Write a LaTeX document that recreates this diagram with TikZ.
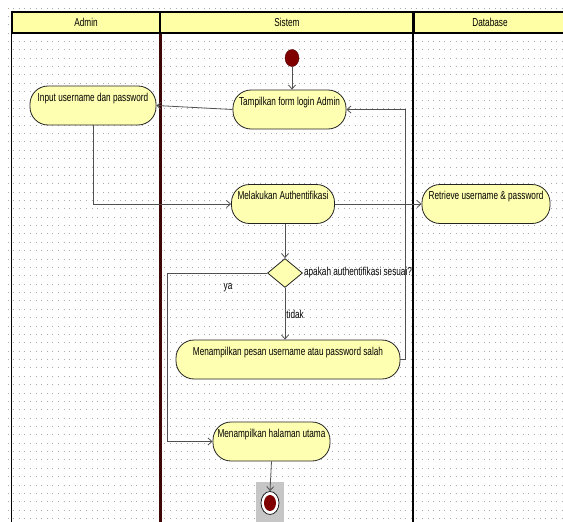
\documentclass[tikz,border=0pt]{standalone}
\usepackage{fontspec}
\newfontfamily\umlfont[FakeStretch=0.715]{Liberation Sans}
\usetikzlibrary{arrows.meta,calc,shapes.geometric}
\definecolor{umlyellow}{RGB}{255,255,178}
\definecolor{laneyellow}{RGB}{255,255,166}
\definecolor{umlmaroon}{RGB}{128,0,0}
\definecolor{lanemaroon}{RGB}{62,6,6}
\definecolor{umlink}{RGB}{35,35,35}
\definecolor{umlwire}{RGB}{80,80,80}
\definecolor{umldot}{RGB}{170,170,170}

\begin{document}
\begin{tikzpicture}[
    x=1pt, y=-1pt,
    >={Straight Barb[length=4pt,width=7pt]},
    % Activity boxes keep their text near the top, as in the modelling tool.
    act/.style={
        draw=umlink,
        line width=0.8pt,
        fill=umlyellow,
        rounded corners=18pt,
        align=center,
        inner xsep=2pt,
        inner ysep=3pt,
        text height=12pt,
        text depth=21pt,
        font=\umlfont\fontsize{11.5}{13}\selectfont
    },
    decision/.style={
        diamond,
        draw=umlink,
        line width=0.8pt,
        fill=umlyellow,
        inner sep=0pt,
        minimum width=35pt,
        minimum height=29pt
    },
    initial/.style={
        ellipse,
        draw=umlmaroon!60!black,
        fill=umlmaroon,
        inner sep=0pt,
        minimum width=14pt,
        minimum height=17pt
    },
    final/.style={
        ellipse,
        draw=umlink,
        line width=0.8pt,
        fill=white,
        inner sep=0pt,
        minimum width=18pt,
        minimum height=23pt,
        path picture={\fill[umlmaroon] (path picture bounding box.center) ellipse (6pt and 8pt);}
    },
    selbox/.style={fill=gray!45, inner sep=0pt, minimum width=28pt, minimum height=40pt},
    lanehead/.style={
        draw=black,
        line width=1.2pt,
        fill=laneyellow,
        inner sep=0pt,
        minimum height=21pt,
        font=\umlfont\fontsize{11.5}{13}\selectfont
    },
    lbl/.style={inner sep=1pt, font=\umlfont\fontsize{11.5}{13}\selectfont},
    flow/.style={->, draw=umlwire, line width=0.8pt},
    griddot/.style={draw=umldot, line width=1pt, dash pattern=on 1pt off 4.6pt}
]
    \useasboundingbox (0,0) rectangle (563,522);
    \clip (0,0) rectangle (563,522);

    % dotted drawing grid
    \foreach \gy in {0,...,62} {
        \draw[griddot] (7.5,{8+8.37*\gy}) -- (563,{8+8.37*\gy});
    }

    % swimlanes
    \node[lanehead, minimum width=148pt] (adminlane) at (86,22.5) {Admin};
    \node[lanehead, minimum width=254pt] (sistemlane) at (287,22.5) {Sistem};
    \node[lanehead, minimum width=152pt] (dblane) at (490,22.5) {Database};
    \draw[black, line width=1.5pt] (adminlane.north west) -- ++(0,520);
    \draw[lanemaroon, line width=3pt] (adminlane.south east) -- ++(0,500);
    \draw[black, line width=2pt] (dblane.north west) -- ++(0,520);

    % activities
    \node[initial] (start) at (292,58) {};
    \node[act, minimum width=113pt] (form) at (289.5,109.5) {Tampilkan form login Admin};
    \node[act, minimum width=126pt] (input) at (93,105.5) {Input username dan password};
    \node[act, minimum width=103pt] (auth) at (283,204) {Melakukan Authentifikasi};
    \node[act, minimum width=128pt] (retrieve) at (486,204) {Retrieve username \& password};
    \node[decision] (check) at (285,273) {};
    \node[lbl, anchor=west] (checklbl) at (check.east) {apakah authentifikasi sesuai?};
    \node[act, minimum width=224pt] (pesan) at (288,359.5) {Menampilkan pesan username atau password salah};
    \node[act, minimum width=117pt] (utama) at (271.5,441.5) {Menampilkan halaman utama};
    \node[selbox] (finalsel) at (270,502) {};
    \node[final] (finish) at (270,503) {};

    \coordinate (yabend) at (167,273);
    \coordinate (backbend) at (405,359.5);

    % control flow
    \draw[flow] (start) -- (start |- form.north);
    \draw[flow] (form.west) -- (input.east);
    \draw[flow] (input.south) |- (auth.west);
    \draw[flow] (auth.east) -- (retrieve.west);
    \draw[flow] (check.north |- auth.south) -- (check.north);
    \draw[flow] (check.south) --
        node[lbl, right, pos=0.52] {tidak} (check.south |- pesan.north);
    \draw[flow] (check.west) --
        node[lbl, pos=0.39, yshift=-15pt] {ya} (yabend) |- (utama.west);
    \draw[flow] (pesan.east) -- (backbend) |- (form.east);
    \draw[flow] (utama.south) -- (finish.north);
\end{tikzpicture}
\end{document}
